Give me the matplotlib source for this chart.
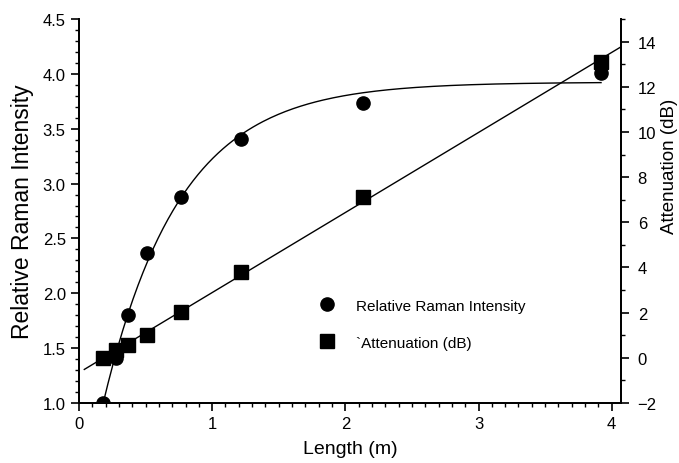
import numpy as np
import matplotlib
matplotlib.use('Agg')
import matplotlib.pyplot as plt
from matplotlib.ticker import MultipleLocator

plt.rcParams['font.family'] = ['Liberation Sans', 'DejaVu Sans']

# Values
length_m = [0.18, 0.28, 0.37, 0.51, 0.765, 1.22, 2.13, 3.92]
raman = [1.00, 1.41, 1.80, 2.37, 2.875, 3.41, 3.735, 4.01]
atten_db = [0.0, 0.35, 0.55, 1.01, 2.05, 3.80, 7.12, 13.10]

x = np.array(length_m)
r = np.array(raman)
a = np.array(atten_db)

# linear fit for attenuation
slope, icpt = np.polyfit(x, a, 1)
xl = np.linspace(0.04, 4.06, 50)

# saturating exponential fit for Raman intensity: y = A - B*exp(-x/t)
best = None
for t in np.linspace(0.2, 2.0, 1801):
    M = np.column_stack([np.ones_like(x), -np.exp(-x / t)])
    coef, res, *_ = np.linalg.lstsq(M, r, rcond=None)
    err = np.sum((M @ coef - r) ** 2)
    if best is None or err < best[0]:
        best = (err, t, coef)
_, tau, (A, B) = best
xc = np.linspace(0.18, 3.92, 200)

fig = plt.figure(figsize=(6.79, 4.64), dpi=100)
ax = fig.add_axes([0.1163, 0.1293, 0.7983, 0.8276])
ax2 = ax.twinx()

ax.plot(xc, A - B * np.exp(-xc / tau), color='black', lw=1.0)
h1, = ax.plot(x, r, 'o', color='black', ms=9.5, label='Relative Raman Intensity')
ax2.plot(xl, slope * xl + icpt, color='black', lw=1.0)
h2, = ax2.plot(x, a, 's', color='black', ms=9.5, label='`Attenuation (dB)')

ax.set_xlim(0, 4.07)
ax.set_ylim(1.0, 4.5)
ax2.set_ylim(-2, 15)

ax.xaxis.set_major_locator(MultipleLocator(1))
ax.xaxis.set_minor_locator(MultipleLocator(0.1))
ax.yaxis.set_major_locator(MultipleLocator(0.5))
ax.yaxis.set_minor_locator(MultipleLocator(0.1))
ax2.yaxis.set_major_locator(MultipleLocator(2))
ax2.yaxis.set_minor_locator(MultipleLocator(1))
ax.yaxis.set_major_formatter(matplotlib.ticker.FormatStrFormatter('%.1f'))

for axx in (ax, ax2):
    axx.spines['top'].set_visible(False)
    for s in axx.spines.values():
        s.set_linewidth(1.3)
    axx.tick_params(which='major', direction='out', length=6, width=1.2, labelsize=12)
    axx.tick_params(which='minor', direction='out', length=3, width=1.0)
ax2.tick_params(which='major', pad=6)

ax.set_xlabel('Length (m)', fontsize=14, labelpad=6)
ax.set_ylabel('Relative Raman Intensity', fontsize=16.5, labelpad=6)
ax2.set_ylabel('Attenuation (dB)', fontsize=13.5)
ax2.yaxis.set_label_coords(1.074, 0.62)

ax.legend(handles=[h1, h2], loc='center left', bbox_to_anchor=(0.418, 0.205),
          frameon=False, fontsize=11, handletextpad=1.4, labelspacing=1.5,
          handlelength=1.0)

fig.savefig('out.png', dpi=100)
